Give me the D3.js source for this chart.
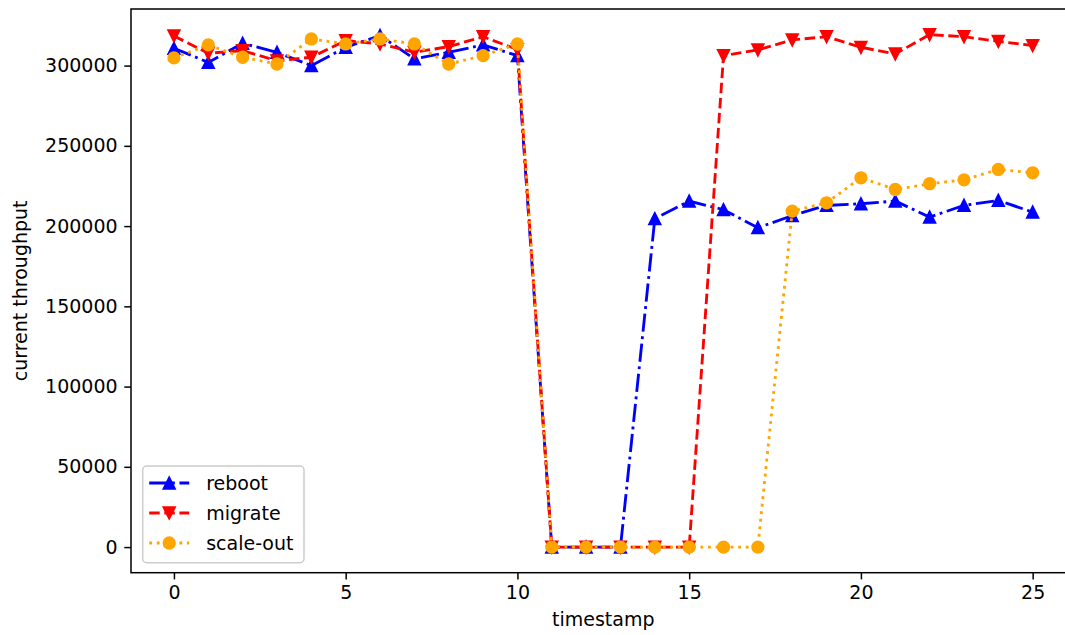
<!DOCTYPE html>
<html>
<head>
<meta charset="utf-8">
<script src="https://cdn.jsdelivr.net/npm/d3@7"></script>
<style>
  body { margin: 0; background: #fff; }
  svg { display: block; font-family: "DejaVu Sans", sans-serif; }
</style>
</head>
<body>
<div id="chart"></div>
<script>
// values
const timestamps = d3.range(0, 26);
const reboot = [310800, 302000, 313900, 308300, 300000, 311400, 318700, 304200, 308300, 312900, 306200,
    0, 0, 0, 204600, 215600, 210200, 199000, 206500, 212900, 213900, 215600, 205600, 212900, 216000, 208700];
const migrate = [318500, 307700, 309300, 303000, 305200, 315600, 313500, 308300, 311800, 318000, 310000,
    0, 0, 0, 0, 0, 306200, 309800, 316000, 318000, 311400, 307300, 319300, 318000, 315100, 312500];
const scaleOut = [304800, 312900, 305200, 301000, 316600, 313500, 316600, 313500, 301000, 306200, 313500,
    0, 0, 0, 0, 0, 0, 0, 209300, 214500, 230100, 222800, 226400, 228800, 235300, 233200];
const xTicks = [0, 5, 10, 15, 20, 25];
const yTicks = [0, 50000, 100000, 150000, 200000, 250000, 300000];

const series = [
    { name: "reboot", values: reboot, color: "blue", dash: "18.2,4.6,2.85,4.6", marker: "up" },
    { name: "migrate", values: migrate, color: "red", dash: "10.5,4.6", marker: "down" },
    { name: "scale-out", values: scaleOut, color: "orange", dash: "2.85,4.7", marker: "circle" }
];

const W = 1065, H = 635;
const margin = { top: 9, left: 131 };
const width = 944.6, height = 563.7;
const fs = 19;

const svg = d3.select("#chart").append("svg")
    .attr("width", W).attr("height", H);

const g = svg.append("g")
    .attr("transform", "translate(" + margin.left + "," + margin.top + ")");

const allVals = reboot.concat(migrate, scaleOut);
const yMax = d3.max(allVals), yMin = d3.min(allVals);
const yPad = (yMax - yMin) * 0.05;

const x = d3.scaleLinear().domain([-1.25, 26.25]).range([0, width]);
const y = d3.scaleLinear().domain([yMin - yPad, yMax + yPad]).range([height, 0]);

// axes
const xAxis = g.append("g")
    .attr("transform", "translate(0," + height + ")")
    .call(d3.axisBottom(x).tickValues(xTicks).tickSize(6.7).tickPadding(6.5));
const yAxis = g.append("g")
    .call(d3.axisLeft(y).tickValues(yTicks).tickFormat(d3.format("d")).tickSize(6.7).tickPadding(6.7));

[xAxis, yAxis].forEach(a => {
    a.select(".domain").remove();
    a.selectAll(".tick line").attr("stroke", "#000").attr("stroke-width", 1.5);
    a.selectAll(".tick text").attr("fill", "#000").style("font-size", fs + "px")
        .style("font-family", "DejaVu Sans");
});

// clip for lines
svg.append("defs").append("clipPath").attr("id", "clip")
    .append("rect").attr("width", width).attr("height", height);

const plot = g.append("g").attr("clip-path", "url(#clip)");

const line = d3.line()
    .x((d, i) => x(timestamps[i]))
    .y(d => y(d));

const ms = 5.7;
function drawMarker(sel, type, color) {
    if (type === "circle") {
        sel.append("circle").attr("r", ms)
            .attr("fill", color).attr("stroke", color).attr("stroke-width", 1.9);
    } else {
        const s = type === "up" ? 1 : -1;
        sel.append("path")
            .attr("d", "M0," + (-ms * s) + "L" + (-ms) + "," + (ms * s) + "L" + ms + "," + (ms * s) + "Z")
            .attr("fill", color).attr("stroke", color).attr("stroke-width", 1.9)
            .attr("stroke-linejoin", "miter");
    }
}

for (const serie of series) {
    plot.append("path")
        .datum(serie.values)
        .attr("fill", "none")
        .attr("stroke", serie.color)
        .attr("stroke-width", 2.85)
        .attr("stroke-dasharray", serie.dash)
        .attr("d", line);

    plot.selectAll(null)
        .data(serie.values)
        .enter()
        .append("g")
        .attr("transform", (d, i) => "translate(" + x(timestamps[i]) + "," + y(d) + ")")
        .each(function () { drawMarker(d3.select(this), serie.marker, serie.color); });
}

// spines
g.append("rect")
    .attr("width", width).attr("height", height)
    .attr("fill", "none").attr("stroke", "#000").attr("stroke-width", 1.5);

// labels
svg.append("text")
    .attr("x", margin.left + width / 2).attr("y", 626)
    .attr("text-anchor", "middle")
    .style("font-size", fs + "px")
    .text("timestamp");

svg.append("text")
    .attr("transform", "translate(27," + (margin.top + height / 2) + ") rotate(-90)")
    .attr("text-anchor", "middle")
    .style("font-size", fs + "px")
    .text("current throughput");

// legend
const leg = svg.append("g").attr("transform", "translate(142.7,466)");
leg.append("rect")
    .attr("width", 161.3).attr("height", 96.7).attr("rx", 4).attr("ry", 4)
    .attr("fill", "white").attr("fill-opacity", 0.8)
    .attr("stroke", "#cccccc").attr("stroke-width", 1.5);

series.forEach((serie, i) => {
    const yy = 17 + i * 30;
    const item = leg.append("g").attr("transform", "translate(0," + yy + ")");
    item.append("line")
        .attr("x1", 6.5).attr("x2", 46.5).attr("y1", 0).attr("y2", 0)
        .attr("stroke", serie.color).attr("stroke-width", 2.85)
        .attr("stroke-dasharray", serie.dash);
    drawMarker(item.append("g").attr("transform", "translate(26.5,0)"), serie.marker, serie.color);
    item.append("text")
        .attr("x", 63.5).attr("y", 0).attr("dy", "0.35em")
        .style("font-size", fs + "px")
        .text(serie.name);
});
</script>
</body>
</html>
